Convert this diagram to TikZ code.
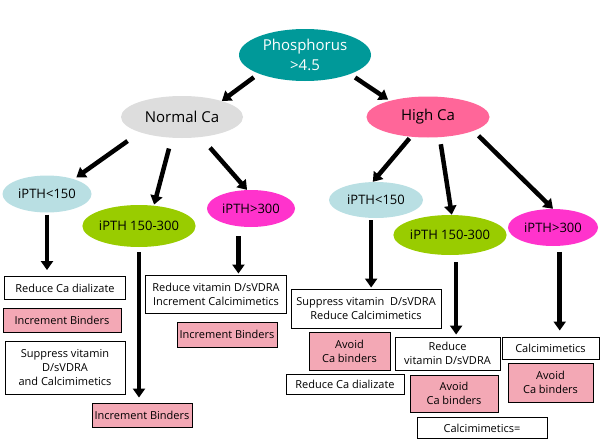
\documentclass[tikz,border=0pt]{standalone}
\usepackage{fontspec}
\setmainfont{Open Sans}
\usetikzlibrary{shapes.geometric,arrows.meta}
\definecolor{teal0}{HTML}{009999}
\definecolor{grey0}{HTML}{DDDDDD}
\definecolor{rose0}{HTML}{FF6699}
\definecolor{sky0}{HTML}{B9DFE3}
\definecolor{lime0}{HTML}{99CC00}
\definecolor{fuchsia0}{HTML}{FF33CC}
\definecolor{blush0}{HTML}{F3A8B5}
\begin{document}
\begin{tikzpicture}[x=1pt,y=-1pt,
    oval/.style={ellipse,inner sep=0pt,font=\fontsize{13}{15}\selectfont},
    whitebox/.style={draw=black,line width=0.9pt,fill=white,inner sep=0pt,align=center,
      font=\fontsize{11}{14}\selectfont},
    pinkbox/.style={whitebox,fill=blush0},
    flow/.style={line width=4.5pt,-{Triangle[length=9pt,width=12pt]}}]
      \useasboundingbox (0,0) rectangle (600,439);
      % tree of ellipses
      \node[oval,fill=teal0,text=white,minimum width=132pt,minimum height=52pt,align=center,
        font=\fontsize{15}{20}\selectfont] (phos) at (305,55) {Phosphorus\\>4.5};
      \node[oval,fill=grey0,minimum width=122pt,minimum height=42pt,font=\fontsize{15}{17}\selectfont] (nca) at (182,117) {Normal Ca};
      \node[oval,fill=rose0,minimum width=123pt,minimum height=41pt,font=\fontsize{15}{17}\selectfont] (hca) at (428,117) {High Ca};
      \node[oval,fill=sky0,minimum width=89pt,minimum height=37pt] (lo1) at (47,194) {iPTH<150};
      \node[oval,fill=lime0,minimum width=112pt,minimum height=42pt] (mid1) at (139,226) {iPTH 150-300};
      \node[oval,fill=fuchsia0,minimum width=88pt,minimum height=37pt] (hi1) at (251,208.5) {iPTH>300};
      \node[oval,fill=sky0,minimum width=94pt,minimum height=36pt] (lo2) at (376,200) {iPTH<150};
      \node[oval,fill=lime0,minimum width=102pt,minimum height=40pt] (mid2) at (450,235) {iPTH 150-300};
      \node[oval,fill=fuchsia0,minimum width=90pt,minimum height=37pt] (hi2) at (553,227.5) {iPTH>300};
      % boxes
      \node[whitebox,minimum width=121pt,minimum height=23pt] (b1) at (65,288) {Reduce Ca dializate};
      \node[pinkbox,minimum width=118pt,minimum height=24pt] (p1) at (62,320) {Increment Binders};
      \node[whitebox,minimum width=120pt,minimum height=53pt] (b2) at (65,368) {Suppress vitamin\\D/sVDRA\\and Calcimimetics};
      \node[pinkbox,minimum width=100pt,minimum height=24pt] (p2) at (142,415) {Increment Binders};
      \node[whitebox,minimum width=141pt,minimum height=38pt] (b3) at (216,294) {Reduce vitamin D/sVDRA\\Increment Calcimimetics};
      \node[pinkbox,minimum width=100pt,minimum height=25pt] (p3) at (227,334.5) {Increment Binders};
      \node[whitebox,minimum width=150pt,minimum height=39pt] (b4) at (366,308.5) {Suppress vitamin\ \ D/sVDRA\\Reduce Calcimimetics};
      \node[pinkbox,minimum width=81pt,minimum height=38pt] (p4) at (349.5,351) {Avoid\\Ca binders};
      \node[whitebox,minimum width=118pt,minimum height=20pt] (b5) at (345,384) {Reduce Ca dializate};
      \node[whitebox,minimum width=105pt,minimum height=33pt] (b6) at (447.5,353.5) {Reduce\\vitamin D/sVDRA};
      \node[pinkbox,minimum width=88pt,minimum height=37pt] (p5) at (454,393.5) {Avoid\\Ca binders};
      \node[whitebox,minimum width=130pt,minimum height=21pt] (b7) at (482,428) {Calcimimetics=};
      \node[whitebox,minimum width=97pt,minimum height=22pt] (b8) at (550.5,348) {Calcimimetics};
      \node[pinkbox,minimum width=85pt,minimum height=39pt] (p6) at (550.5,382.5) {Avoid\\Ca binders};
      \begin{scope}[flow]
        \draw[shorten <=6pt] (phos.202) to (nca.22);
        \draw[shorten <=6pt,shorten >=2pt] (phos.337) to (hca.157);
        \draw[shorten <=15pt,shorten >=3pt] (nca.200) to (lo1.29);
        \draw[shorten <=11pt,shorten >=1pt] (nca.244) to (mid1.54);
        \draw[shorten <=14pt] (nca.313) to (hi1.102);
        \draw[shorten <=2pt] (hca.229) to (lo2.100);
        \draw[shorten <=7pt] (hca.300) to (mid2.85);
        \draw[shorten <=7pt] (hca.343) to (hi2.north);
        \draw[shorten <=2pt,shorten >=6pt] (lo1.south) to (lo1.south |- b1.north);
        \draw[shorten <=5pt,shorten >=5pt] (mid1.south) to (mid1.south |- p2.north);
        \draw[shorten <=10pt,shorten >=1pt] (hi1.235) to (hi1.235 |- b3.north);
        \draw[shorten <=2pt,shorten >=1pt] (lo2.255) to (lo2.255 |- b4.north);
        \draw[shorten <=7pt,shorten >=2pt] (mid2.287) to (mid2.287 |- b6.north);
        \draw[shorten <=6pt,shorten >=6pt] (hi2.290) to (hi2.290 |- b8.north);
      \end{scope}
    \end{tikzpicture}
\end{document}
